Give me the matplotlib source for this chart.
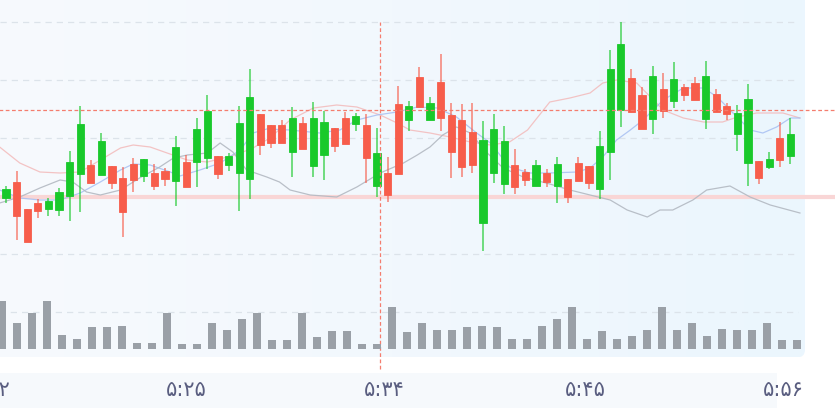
import matplotlib
matplotlib.use("Agg")
import matplotlib.pyplot as plt
from matplotlib.patches import FancyBboxPatch, Rectangle
from matplotlib.colors import LinearSegmentedColormap
from matplotlib.transforms import blended_transform_factory
import numpy as np

# candles (price units, 75 bars)
opens = [102, 118, 91, 97, 91, 90, 104, 126, 135, 125, 134, 122, 136, 124, 127, 129, 119, 138, 138, 142,
         144, 135, 127, 121, 186, 175, 175, 148, 177, 134, 145, 172, 182, 176, 175, 114, 127, 196, 180, 223,
         180, 218, 185, 180, 168, 77, 127, 116, 135, 128, 114, 127, 114, 121, 137, 134, 111, 148, 190, 222,
         205, 181, 211, 199, 213, 217, 181, 206, 194, 166, 137, 139, 133, 162, 144]
highs = [114, 129, 91, 101, 102, 112, 149, 194, 140, 167, 134, 133, 142, 141, 136, 132, 164, 145, 182, 205,
         144, 147, 194, 231, 186, 175, 180, 193, 183, 198, 189, 172, 188, 187, 186, 172, 143, 214, 199, 233,
         203, 246, 197, 196, 197, 179, 186, 174, 151, 131, 140, 131, 143, 121, 143, 134, 169, 250, 278, 231,
         213, 234, 227, 238, 216, 223, 239, 211, 197, 195, 216, 139, 148, 178, 182]
lows = [97, 60, 58, 82, 84, 84, 79, 88, 117, 125, 111, 63, 108, 118, 110, 114, 94, 113, 113, 131,
        121, 129, 89, 101, 145, 152, 157, 123, 151, 123, 120, 148, 156, 169, 117, 103, 98, 126, 169, 193,
        180, 169, 122, 123, 127, 49, 117, 106, 106, 114, 114, 113, 97, 97, 119, 111, 101, 120, 173, 188,
        171, 166, 182, 192, 199, 200, 171, 188, 180, 149, 114, 116, 131, 133, 136]
closes = [111, 84, 58, 89, 99, 108, 138, 176, 117, 159, 117, 88, 120, 141, 114, 121, 153, 113, 171, 189,
          126, 144, 177, 203, 155, 157, 157, 182, 151, 182, 178, 154, 156, 184, 142, 147, 105, 126, 194, 193,
          197, 182, 148, 133, 135, 160, 171, 159, 113, 120, 135, 118, 136, 103, 119, 117, 154, 231, 256, 188,
          171, 224, 189, 221, 205, 200, 224, 188, 186, 187, 201, 122, 141, 140, 166]

# overlay lines: (candle index, price)
upper_x = [-0.6, 1.3, 3.2, 5.1, 7.0, 8.9, 10.8, 12.0, 13.6, 15.2, 17.1, 19.0, 20.9, 22.1, 23.3, 24.9, 26.8,
           29.0, 31.2, 33.1, 35.3, 36.9, 38.1, 40.0, 41.9, 43.8, 45.7, 47.5, 49.2, 51.3, 53.2, 55.1, 56.3,
           57.6, 59.5, 60.8, 62.0, 63.9, 65.8, 67.6, 69.0, 70.8, 73.3, 74.9]
upper_y = [153, 137, 128, 127, 128, 140, 152, 155, 153, 147, 140, 138, 143, 147, 152, 162, 180,
           192, 195, 193, 185, 177, 170, 167, 163, 158, 155, 158, 170, 198, 202, 207, 217,
           220, 217, 203, 190, 182, 178, 178, 183, 187, 187, 182]
mid_x = [-0.6, 1.3, 3.2, 5.1, 7.0, 8.9, 10.8, 12.0, 13.6, 15.5, 16.4, 18.3, 20.2, 22.1, 23.3, 24.6, 26.8,
         29.6, 31.5, 33.1, 35.0, 36.9, 38.8, 40.7, 42.5, 44.4, 45.7, 47.5, 49.4, 51.3, 53.9, 55.1, 56.3,
         57.6, 58.9, 60.1, 62.0, 63.9, 65.8, 67.1, 68.3, 70.2, 71.4, 72.7, 74.0, 74.9]
mid_y = [110, 102, 100, 100, 107, 118, 130, 136, 135, 128, 124, 130, 137, 150, 167, 171, 170,
         167, 170, 180, 185, 188, 193, 192, 183, 167, 157, 133, 127, 127, 128, 132, 143,
         160, 170, 180, 200, 212, 212, 203, 190, 170, 167, 173, 182, 182]
lower_x = [-0.6, 1.3, 3.2, 5.1, 6.3, 7.6, 8.9, 10.8, 12.6, 14.5, 15.8, 17.1, 19.0, 20.2, 21.4, 22.7, 24.6,
           25.8, 26.8, 28.7, 31.2, 33.1, 35.3, 37.5, 38.8, 40.0, 41.2, 42.5, 43.8, 45.4, 46.9, 48.8, 51.3,
           53.2, 55.1, 57.0, 58.6, 60.5, 61.7, 62.9, 64.8, 66.1, 68.3, 70.2, 72.1, 74.9]
lower_y = [97, 103, 112, 120, 118, 108, 105, 110, 122, 133, 142, 145, 147, 157, 148, 130, 123,
           118, 110, 105, 103, 113, 127, 137, 145, 153, 165, 173, 167, 147, 132, 123, 116,
           110, 105, 100, 90, 83, 90, 90, 100, 110, 114, 103, 95, 87]

volumes = [480, 260, 360, 480, 140, 100, 220, 220, 230, 60, 60, 360, 50, 50, 260, 190, 300, 360,
           90, 90, 360, 120, 180, 180, 50, 50, 420, 170, 260, 190, 190, 220, 230, 220, 100, 100,
           230, 300, 420, 100, 180, 100, 130, 190, 420, 190, 260, 130, 200, 190, 190, 260, 90, 90]

time_labels = ["۵:۱۲", "۵:۲۵", "۵:۳۴", "۵:۴۵", "۵:۵۶"]
time_pos = [-1.5, 17.0, 35.7, 54.7, 73.3]

last_price = 103
cross_price = 190
cross_idx = 35.3

GREEN = "#19c92b"
RED = "#f75d4b"

fig = plt.figure(figsize=(8.35, 4.08), dpi=100)

# background layer in pixel coords
bg = fig.add_axes([0, 0, 1, 1])
bg.set_xlim(0, 835)
bg.set_ylim(408, 0)
bg.axis("off")
panel = FancyBboxPatch((-20, -20), 825, 377.5, boxstyle="round,pad=0,rounding_size=8",
                       facecolor="none", edgecolor="none")
bg.add_patch(panel)
grad = np.linspace(0, 1, 256).reshape(1, -1)
cmap = LinearSegmentedColormap.from_list("panel", ["#f7fafd", "#f2f8fd", "#ebf6fe"])
im = bg.imshow(grad, extent=(-20, 805, 357.5, -20), cmap=cmap, aspect="auto", zorder=0)
im.set_clip_path(panel)
bg.add_patch(Rectangle((0, 373), 777, 40, facecolor="#f6f9fc", edgecolor="none"))

# price axes
ax = fig.add_axes([0, 0, 1, 1], facecolor="none")
ax.set_xlim(-6 / 10.6, 829 / 10.6)
ax.set_ylim(-108, 300)
ax.axis("off")

idx = np.arange(len(opens))
o = np.array(opens)
c = np.array(closes)
up = c >= o
cols = np.where(up, GREEN, RED)

for g in np.arange(46, 279, 58):
    if g == 104:
        continue
    ax.hlines(g, -0.6, 74.7, colors="#dce3ea", lw=0.9, linestyles=(0, (5, 4)), zorder=1)

ax.hlines(last_price, -1, 80, colors="#f9d6d6", lw=3, zorder=1)
ax.plot(upper_x, upper_y, color="#f3b6b6", lw=0.9, alpha=0.8, zorder=2)
ax.plot(mid_x, mid_y, color="#a7bff2", lw=0.9, alpha=0.85, zorder=2)
ax.plot(lower_x, lower_y, color="#b3b9c2", lw=0.9, alpha=0.9, zorder=2)

ax.vlines(idx, lows, highs, colors=cols, lw=1.3, alpha=0.65, zorder=3)
ax.bar(idx, np.abs(c - o), bottom=np.minimum(o, c), width=0.68, color=cols,
       edgecolor=cols, linewidth=0.6, zorder=4)

ax.hlines(cross_price, -1, 80, colors="#f47d6e", lw=0.9, linestyles=(0, (3, 2)), zorder=5)
ax.vlines(cross_idx, -69, 278, colors="#f47d6e", lw=0.9, linestyles=(0, (3, 2)), zorder=5)

# volume axes
vax = fig.add_axes([0, 0, 1, 1], facecolor="none")
vax.set_xlim(-2 / 15, 833 / 15)
vax.set_ylim(-590, 3490)
vax.axis("off")
vax.hlines(370, -0.2, 53.07, colors="#dce3ea", lw=0.9, linestyles=(0, (5, 4)), zorder=1)
bars = vax.bar(np.arange(len(volumes)), volumes, width=0.53, color="#9aa0a7", zorder=2)
for b in bars:
    b.set_clip_path(panel)

tr = blended_transform_factory(ax.transData, fig.transFigure)
for p, lab in zip(time_pos, time_labels):
    ax.text(p, 1 - 390 / 408, lab, transform=tr, ha="center", va="center",
            fontsize=15, color="#5a5e80", family=["DejaVu Sans"])

fig.savefig("out.png", dpi=100)
